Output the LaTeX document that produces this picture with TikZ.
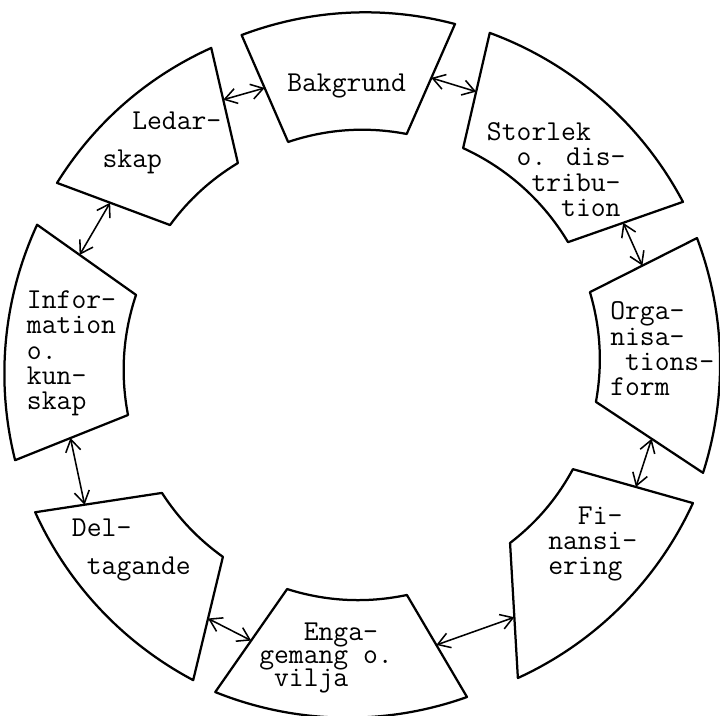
\documentclass[tikz,border=0pt]{standalone}
\usetikzlibrary{calc,arrows.meta}

\newcommand{\ind}[1]{\hspace*{#1\fontcharwd\font`x}}

\begin{document}
\begin{tikzpicture}[x=0.25mm,y=0.25mm,line join=round,line cap=round,
    ring/.style={line width=1.6pt,looseness=0.88},
    link/.style={line width=1.1pt,{Straight Barb[length=3mm,width=3.8mm]}-{Straight Barb[length=3mm,width=3.8mm]}},
    lbl/.style={inner sep=0pt,anchor=base west,align=left,font=\fontsize{20.5}{18.1}\selectfont\ttfamily}]

  \useasboundingbox (-362,-352) rectangle (358,364);

  % ---- hörn: o1/i1 moturs sida, o2/i2 medurs sida ----------------------------
  \coordinate (bak-o1) at (110.1:350.3); \coordinate (bak-o2) at (74.7:352.5);
  \coordinate (bak-i2) at (79:234.3);    \coordinate (bak-i1) at (108.4:234);
  \coordinate (sto-o1) at (68.9:354.9);  \coordinate (sto-o2) at (26.8:359.6);
  \coordinate (sto-i2) at (30.6:239.4);  \coordinate (sto-i1) at (64.9:238.4);
  \coordinate (org-o1) at (20.6:357.9);  \coordinate (org-o2) at (-17.7:358);
  \coordinate (org-i2) at (-9.2:237);    \coordinate (org-i1) at (17.5:239);
  \coordinate (fin-o1) at (-22.8:359);   \coordinate (fin-o2) at (-63.6:350.6);
  \coordinate (fin-i2) at (-50.4:232.3); \coordinate (fin-i1) at (-26.5:235.7);
  \coordinate (eng-o1) at (-72.5:349.2); \coordinate (eng-o2) at (-114.1:359.4);
  \coordinate (eng-i2) at (-108.4:237.2);\coordinate (eng-i1) at (-79:235.3);
  \coordinate (del-o1) at (-118.1:358.4);\coordinate (del-o2) at (-155.6:358.9);
  \coordinate (del-i2) at (-147.2:238);  \coordinate (del-i1) at (-125.8:237.8);
  \coordinate (inf-o1) at (195.5:360);   \coordinate (inf-o2) at (156.8:353.5);
  \coordinate (inf-i2) at (163:236.3);   \coordinate (inf-i1) at (192.3:239.5);
  \coordinate (led-o1) at (149.3:354.7); \coordinate (led-o2) at (115.5:350.2);
  \coordinate (led-i2) at (121.7:236.2); \coordinate (led-i1) at (144.1:237);

  % ---- sektorerna ------------------------------------------------------------
  \draw[ring] (bak-o1) to[bend left=17.7] (bak-o2) -- (bak-i2) to[bend right=14.7] (bak-i1) -- cycle;
  \draw[ring] (sto-o1) to[bend left=21] (sto-o2) -- (sto-i2) to[bend right=17.2] (sto-i1) -- cycle;
  \draw[ring] (org-o1) to[bend left=19.2] (org-o2) -- (org-i2) to[bend right=13.4] (org-i1) -- cycle;
  \draw[ring] (fin-o1) to[bend left=20.4] (fin-o2) -- (fin-i2) to[bend right=12] (fin-i1) -- cycle;
  \draw[ring] (eng-o1) to[bend left=20.8] (eng-o2) -- (eng-i2) to[bend right=14.7] (eng-i1) -- cycle;
  \draw[ring] (del-o1) to[bend left=18.8] (del-o2) -- (del-i2) to[bend right=10.7] (del-i1) -- cycle;
  \draw[ring] (inf-o1) to[bend left=19.4] (inf-o2) -- (inf-i2) to[bend right=14.7] (inf-i1) -- cycle;
  \draw[ring] (led-o1) to[bend left=16.9] (led-o2) -- (led-i2) to[bend right=11.2] (led-i1) -- cycle;

  % ---- texterna (ankare vid sista radens baslinje) ---------------------------
  \node[lbl] (bak) at (-75,272.3) {Bakgrund};
  \node[lbl] (sto) at (124.7,147.3) {Storlek\\\ind{2}o. dis-\\\ind{3}tribu-\\\ind{5}tion};
  \node[lbl] (org) at (248,-32) {Orga-\\nisa-\\\ind{1}tions-\\form};
  \node[lbl] (fin) at (186,-211) {\ind{2}Fi-\\nansi-\\ering};
  \node[lbl] (eng) at (-103,-323) {\ind{3}Enga-\\[-1.4pt]gemang o.\\[-1.4pt]\ind{1}vilja};
  \node[lbl] (del) at (-290.3,-211) {Del-\\[9pt]\ind{1}tagande};
  \node[lbl] (inf) at (-335.3,-46) {Infor-\\mation\\o.\\kun-\\skap};
  \node[lbl] (led) at (-259.7,196) {\ind{2}Ledar-\\[9pt]skap};

  % ---- pilarnas ändar på sidorna ---------------------------------------------
  \coordinate (bak-r) at ($(bak-o2)!0.49!(bak-i2)$);  \coordinate (sto-l) at ($(sto-o1)!0.51!(sto-i1)$);
  \coordinate (sto-r) at ($(sto-o2)!0.52!(sto-i2)$);  \coordinate (org-l) at ($(org-o1)!0.51!(org-i1)$);
  \coordinate (org-r) at ($(org-o2)!0.48!(org-i2)$);  \coordinate (fin-l) at ($(fin-o1)!0.475!(fin-i1)$);
  \coordinate (fin-r) at ($(fin-o2)!0.45!(fin-i2)$);  \coordinate (eng-l) at ($(eng-o1)!0.51!(eng-i1)$);
  \coordinate (eng-r) at ($(eng-o2)!0.5!(eng-i2)$);   \coordinate (del-l) at ($(del-o1)!0.5!(del-i1)$);
  \coordinate (del-r) at ($(del-o2)!0.39!(del-i2)$);  \coordinate (inf-l) at ($(inf-o1)!0.49!(inf-i1)$);
  \coordinate (inf-r) at ($(inf-o2)!0.43!(inf-i2)$);  \coordinate (led-l) at ($(led-o1)!0.47!(led-i1)$);
  \coordinate (led-r) at ($(led-o2)!0.45!(led-i2)$);  \coordinate (bak-l) at ($(bak-o1)!0.495!(bak-i1)$);

  % ---- pilarna ---------------------------------------------------------------
  \draw[link] (bak-r) -- (sto-l);
  \draw[link] (sto-r) -- (org-l);
  \draw[link] (org-r) -- (fin-l);
  \draw[link] (fin-r) -- (eng-l);
  \draw[link] (eng-r) -- (del-l);
  \draw[link] (del-r) -- (inf-l);
  \draw[link] (inf-r) -- (led-l);
  \draw[link] (led-r) -- (bak-l);

\end{tikzpicture}
\end{document}
